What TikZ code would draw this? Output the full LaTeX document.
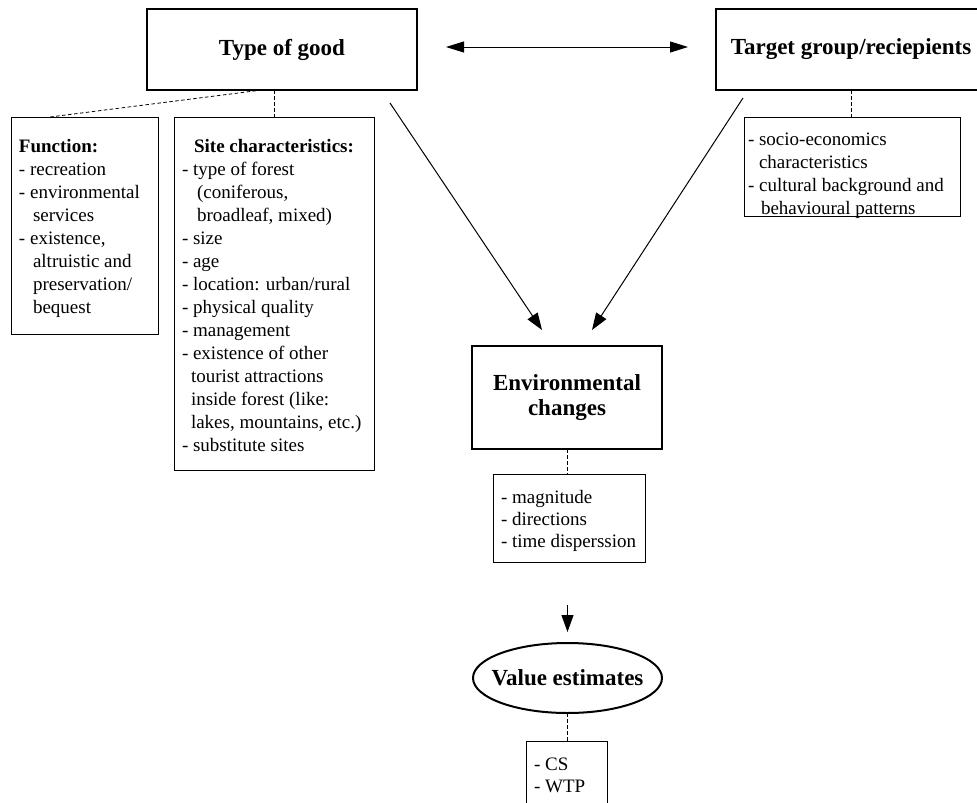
\documentclass[tikz,border=0pt]{standalone}
\usepackage{fontspec}
\setmainfont{Liberation Serif}
\usetikzlibrary{arrows.meta,shapes.geometric}
\newcommand{\tblock}[5]{\parbox[c][#2][t]{#1}{\raggedright\fontsize{19}{#4}\selectfont\vspace*{#3}\strut #5}}
\begin{document}
\begin{tikzpicture}[x=1pt,y=-1pt,
  every node/.style={inner sep=0pt, outer sep=0pt},
  thickbox/.style={draw, line width=2pt, rectangle},
  thinbox/.style={draw, line width=1pt, rectangle, anchor=north west, inner xsep=8pt, inner ysep=0pt},
  titlefont/.style={font=\fontsize{23}{25}\selectfont\bfseries},
  link/.style={line width=1pt, -{Triangle[length=17pt,width=12pt]}},
  dlink/.style={line width=1pt, {Triangle[length=18pt,width=11pt]}-{Triangle[length=18pt,width=11pt]}},
  dashlink/.style={line width=0.8pt, dash pattern=on 3.5pt off 2.5pt}
]
\clip (0,0) rectangle (977,803);

\node[thickbox, minimum width=270pt, minimum height=81pt, titlefont] (tog) at (282,49.5) {Type of good};
\node[thickbox, minimum width=270pt, minimum height=81pt, titlefont] (tgt) at (851,49.5) {Target group/reciepients};

\node[thinbox] (func) at (11,117) {\tblock{131pt}{217pt}{19pt}{23pt}{\textbf{Function:}\\
- recreation\\
- environmental\\
\hspace*{14pt}services\\
- existence,\\
\hspace*{14pt}altruistic and\\
\hspace*{14pt}preservation/\\
\hspace*{14pt}bequest}};

\node[thinbox] (site) at (174,117) {\tblock{184pt}{353pt}{19pt}{23pt}{\makebox[\linewidth]{\bfseries Site characteristics:}\\
- type of forest\\
\hspace*{15pt}(coniferous,\\
\hspace*{15pt}broadleaf, mixed)\\
- size\\
- age\\
- location: urban/rural\\
- physical quality\\
- management\\
- existence of other\\
\hspace*{9pt}tourist attractions\\
\hspace*{9pt}inside forest (like:\\
\hspace*{9pt}lakes, mountains, etc.)\\
- substitute sites}};

\node[thinbox, inner xsep=4pt] (socio) at (744,117) {\tblock{208pt}{99pt}{12pt}{23pt}{- socio-economics\\
\hspace*{11pt}characteristics\\
- cultural background and\\
\hspace*{13pt}behavioural patterns}};

\node[thickbox, minimum width=190pt, minimum height=103pt, titlefont, align=center] (env) at (567,397.5) {\raisebox{-2pt}{Environmental}\\\raisebox{-2pt}{changes}};

\node[thinbox] (mag) at (493,474) {\tblock{136pt}{88pt}{14pt}{22pt}{- magnitude\\
- directions\\
- time disperssion}};

\node[ellipse, draw, line width=2pt, minimum width=189pt, minimum height=70pt, inner xsep=-12pt, titlefont] (val) at (567.5,678) {Value estimates};

\node[thinbox] (cs) at (526,741) {\tblock{65pt}{100pt}{14pt}{22pt}{- CS\\
- WTP}};

\coordinate (a1s) at (390,103);
\coordinate (a1e) at (542,330);
\coordinate (a2s) at (743,98);
\coordinate (a2e) at (592,330);

\draw[dlink, shorten <=29pt, shorten >=28pt] ([yshift=2.5pt]tog.east) -- ([yshift=2.5pt]tgt.west);
\draw[dashlink] (site.north |- tog.south) -- (site.north);
\draw[dashlink] ([xshift=-20pt]tog.south) -- ([xshift=-34.5pt]func.north);
\draw[dashlink] (tgt.south) -- (tgt.south |- socio.north);
\draw[link] (a1s) -- (a1e);
\draw[link] (a2s) -- (a2e);
\draw[dashlink] (env.south) -- (env.south |- mag.north);
\draw[link, shorten <=43pt, shorten >=11pt] (val.north |- mag.south) -- (val.north);
\draw[dashlink] (val.south) -- (val.south |- cs.north);
\end{tikzpicture}
\end{document}
